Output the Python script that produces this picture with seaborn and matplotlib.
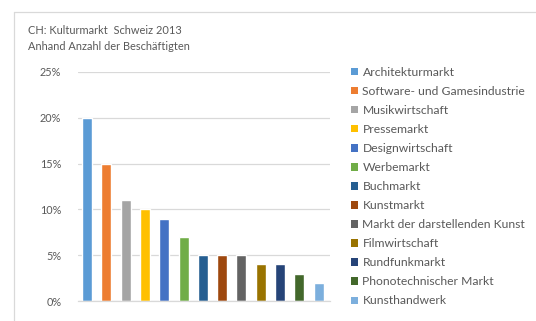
import matplotlib
matplotlib.use("Agg")
import matplotlib.pyplot as plt
import seaborn as sns
import pandas as pd
from matplotlib.patches import Patch
from matplotlib.ticker import FuncFormatter

categories = ["Architekturmarkt", "Software- und Gamesindustrie", "Musikwirtschaft",
              "Pressemarkt", "Designwirtschaft", "Werbemarkt", "Buchmarkt", "Kunstmarkt",
              "Markt der darstellenden Kunst", "Filmwirtschaft", "Rundfunkmarkt",
              "Phonotechnischer Markt", "Kunsthandwerk"]
values = [20, 15, 11, 10, 9, 7, 5, 5, 5, 4, 4, 3, 2]
colors = ["#5B9BD5", "#ED7D31", "#A5A5A5", "#FFC000", "#4472C4", "#70AD47", "#255E91",
          "#9E480E", "#636363", "#997300", "#264478", "#43682B", "#7CAFDD"]
yticks = [0, 5, 10, 15, 20, 25]
title_lines = ["CH: Kulturmarkt  Schweiz 2013", "Anhand Anzahl der Beschäftigten"]

sns.set_theme(style="white")
plt.rcParams['font.family'] = ['Lato', 'DejaVu Sans']
txt = "#595959"
fs_title = 7.9
fs_tick = 7.8
fs_leg = 8.7

df = pd.DataFrame({"cat": categories, "val": values})
fig = plt.figure(figsize=(5.36, 3.21), dpi=100)
fig.patch.set_facecolor("white")
ax = fig.add_axes([78/536, 1-301/321, 252/536, 229/321])
sns.barplot(data=df, x="cat", y="val", hue="cat", palette=colors, order=categories,
            hue_order=categories, legend=False, width=0.52, ax=ax, saturation=1)
ax.set_ylim(0, 25)
ax.set_xlim(-0.47, 12.59)
ax.set_yticks(yticks)
ax.yaxis.set_major_formatter(FuncFormatter(lambda v, p: f"{int(v)}%"))
ax.set_xticks([])
ax.set_xlabel("")
ax.set_ylabel("")
ax.yaxis.grid(True, color="#D9D9D9", linewidth=0.9)
ax.set_axisbelow(True)
for s in ["left", "right", "top"]:
    ax.spines[s].set_visible(False)
ax.spines["bottom"].set_color("#D9D9D9")
ax.spines["bottom"].set_linewidth(0.9)
ax.tick_params(axis="y", length=0, pad=12, labelsize=fs_tick, labelcolor=txt)

fig.text(28/536, 1-30/321, title_lines[0], fontsize=fs_title, color=txt, va="center", ha="left")
fig.text(28/536, 1-47/321, title_lines[1], fontsize=fs_title, color=txt, va="center", ha="left")

handles = [Patch(facecolor=c, edgecolor="none") for c in colors]
leg = fig.legend(handles, categories, loc="upper left", bbox_to_anchor=(351/536, 1-67/321),
                 frameon=False, fontsize=fs_leg, labelcolor=txt, handlelength=0.55,
                 handleheight=0.55, handletextpad=0.4, labelspacing=0.665, borderaxespad=0,
                 borderpad=0)

# faint chart border (top and left)
fig.add_artist(plt.Line2D([14/536, 1], [1-12/321, 1-12/321], color="#D9D9D9", linewidth=0.9))
fig.add_artist(plt.Line2D([14/536, 14/536], [0, 1-12/321], color="#D9D9D9", linewidth=0.9))

fig.savefig("out.png", dpi=100)
